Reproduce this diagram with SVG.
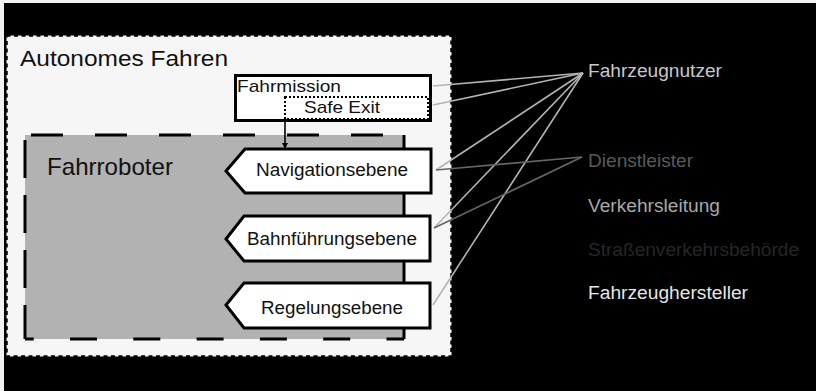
<svg xmlns="http://www.w3.org/2000/svg" width="816" height="391" viewBox="0 0 816 391">
<defs>
<style>
text{font-family:"Liberation Sans",Arial,sans-serif;}
.node{fill:#ffffff;stroke:#000;stroke-width:3;stroke-linejoin:miter;}
.nt{font-size:17.5px;fill:#111;}
.lab{font-size:18px;}
.user{stroke:#b4b4b4;stroke-width:1.6;fill:none;}
.dienst{stroke:#666;stroke-width:1.6;fill:none;}
</style>
<marker id="ah" viewBox="0 0 10 10" refX="10" refY="5" markerWidth="6" markerHeight="6" markerUnits="userSpaceOnUse" orient="auto">
<path d="M0,0 L10,5 L0,10 z" fill="#000"/>
</marker>
</defs>
<rect x="0" y="0" width="816" height="391" fill="#f2f2f2"/>
<rect x="4" y="3" width="812" height="388" fill="#000"/>

<g id="autonomes-fahren">
<rect x="6.5" y="35.5" width="445" height="321" fill="#f6f6f6" stroke="#000" stroke-width="2.5" stroke-dasharray="4 3.5"/>
<text x="20" y="66" font-size="22" fill="#111" textLength="208" lengthAdjust="spacingAndGlyphs">Autonomes Fahren</text>
</g>

<g id="fahrroboter">
<rect x="25" y="135" width="379" height="204" fill="#b2b2b2"/>
<line x1="25" y1="135" x2="404" y2="135" stroke="#000" stroke-width="3" stroke-dasharray="32 32" stroke-dashoffset="-6"/>
<line x1="25" y1="339" x2="404" y2="339" stroke="#000" stroke-width="3" stroke-dasharray="27 36.3" stroke-dashoffset="18.3"/>
<line x1="25" y1="135" x2="25" y2="339" stroke="#000" stroke-width="3" stroke-dasharray="38 17" stroke-dashoffset="-5"/>
<line x1="404" y1="135" x2="404" y2="339" stroke="#000" stroke-width="3"/>
<text x="47" y="175" font-size="24" fill="#111" textLength="126" lengthAdjust="spacingAndGlyphs">Fahrroboter</text>
</g>

<g id="fahrmission">
<rect x="235.5" y="75.5" width="195" height="45" fill="#fff" stroke="#000" stroke-width="3"/>
<text x="237" y="92" font-size="17" fill="#111" textLength="104" lengthAdjust="spacingAndGlyphs">Fahrmission</text>
</g>

<g id="safe-exit">
<rect x="285" y="97" width="143" height="22" fill="none" stroke="#000" stroke-width="2" stroke-dasharray="2 2"/>
<text x="304" y="113" font-size="17" fill="#111" textLength="76" lengthAdjust="spacingAndGlyphs">Safe Exit</text>
</g>

<g id="navigationsebene">
<polygon class="node" points="226,171 245,149 431,149 431,193 245,193"/>
<text class="nt" x="256" y="176" textLength="152" lengthAdjust="spacingAndGlyphs">Navigationsebene</text>
</g>

<g id="bahnfuehrungsebene">
<polygon class="node" points="226,239 244,216 430,216 430,261 244,261"/>
<text class="nt" x="247" y="245" textLength="170" lengthAdjust="spacingAndGlyphs">Bahnführungsebene</text>
</g>

<g id="regelungsebene">
<polygon class="node" points="226,305 244,283 430,283 430,328 244,328"/>
<text class="nt" x="261" y="314" textLength="142" lengthAdjust="spacingAndGlyphs">Regelungsebene</text>
</g>

<g id="fahrzeugnutzer">
<text class="lab" x="588" y="77" fill="#c8c8c8" textLength="134" lengthAdjust="spacingAndGlyphs">Fahrzeugnutzer</text>
</g>
<g id="dienstleister">
<text class="lab" x="588" y="167" fill="#5a5a5a" textLength="105" lengthAdjust="spacingAndGlyphs">Dienstleister</text>
</g>
<g id="verkehrsleitung">
<text class="lab" x="588" y="212" fill="#a8a8a8" textLength="132" lengthAdjust="spacingAndGlyphs">Verkehrsleitung</text>
</g>
<g id="strassenverkehrsbehoerde">
<text class="lab" x="588" y="256" fill="#262626" textLength="211" lengthAdjust="spacingAndGlyphs">Straßenverkehrsbehörde</text>
</g>
<g id="fahrzeughersteller">
<text class="lab" x="588" y="299" fill="#e6e6e6" textLength="160" lengthAdjust="spacingAndGlyphs">Fahrzeughersteller</text>
</g>

<g id="connectors">
<line x1="285" y1="121" x2="285" y2="149" stroke="#000" stroke-width="1.6" marker-end="url(#ah)"/>
<line class="user" x1="583" y1="73" x2="433" y2="86"/>
<line class="user" x1="583" y1="73" x2="433" y2="105"/>
<line class="user" x1="583" y1="73" x2="436" y2="170"/>
<line class="user" x1="583" y1="73" x2="434" y2="228"/>
<line class="user" x1="583" y1="73" x2="433" y2="305"/>
<line class="dienst" x1="582" y1="157" x2="436" y2="170"/>
<line class="dienst" x1="582" y1="157" x2="434" y2="228"/>
</g>
</svg>
